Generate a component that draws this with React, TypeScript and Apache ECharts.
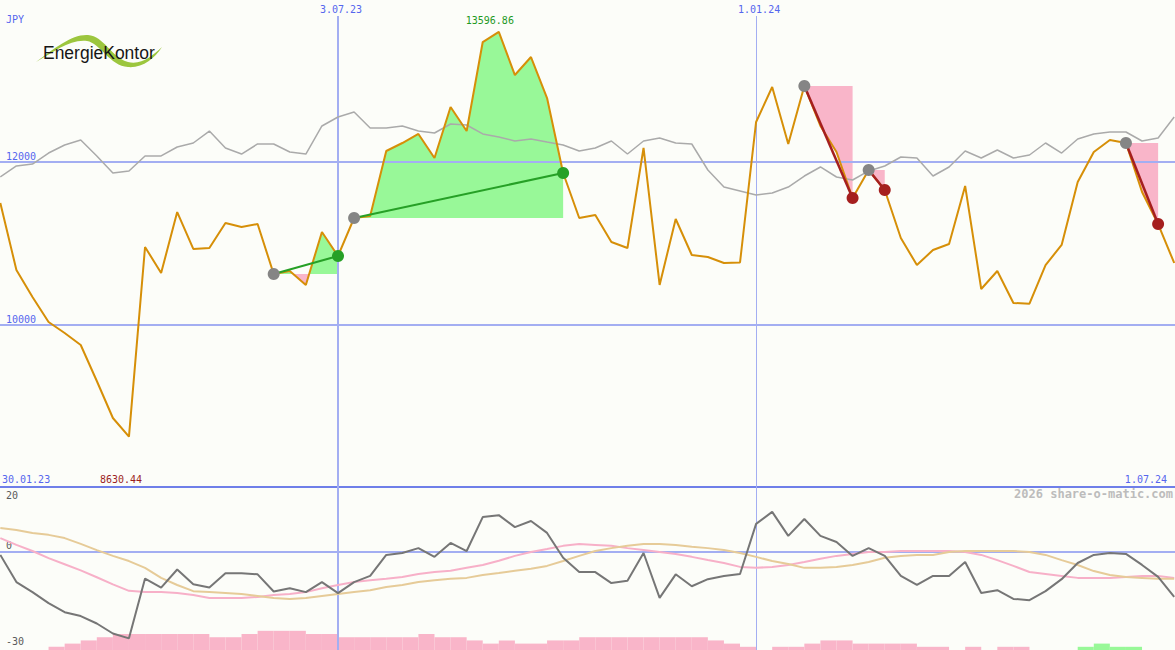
import { useEffect, useRef } from 'react';
import * as echarts from 'echarts';

// Weekly closes in JPY (first point = week of 6.02.23, last = 1.07.24)
const price = [
  11497, 10675, 10344, 10037, 9902, 9755, 9313, 8859, 8630.44, 10957,
  10638, 11386, 10933, 10945, 11252, 11202, 11239, 10626, 10663, 10491,
  11141, 10847, 11313, 11337, 12135, 12233, 12344, 12049, 12675, 12380,
  13472, 13596.86, 13067, 13288, 12785, 11865, 11313, 11350, 11018, 10945,
  12172, 10491, 11301, 10859, 10834, 10761, 10768, 12491, 12920, 12221,
  12933, 12442, 12123, 11558, 11902, 11656, 11067, 10736, 10920, 10994,
  11706, 10442, 10663, 10270, 10262, 10736, 10982, 11755, 12123, 12270,
  12233, 11632, 11239, 10761,
];

// Comparison index, rebased onto the price scale
const benchmark = [
  11816, 11951, 11975, 12110, 12209, 12270, 12074, 11865, 11890, 12074,
  12074, 12184, 12233, 12380, 12172, 12098, 12221, 12221, 12123, 12098,
  12442, 12552, 12614, 12417, 12417, 12442, 12380, 12356, 12466, 12454,
  12344, 12307, 12258, 12282, 12245, 12209, 12135, 12172, 12258, 12098,
  12258, 12294, 12233, 12221, 11902, 11693, 11644, 11595, 11620, 11693,
  11828, 11939, 11816, 11779, 11890, 11951, 12061, 12049, 11828, 11939,
  12135, 12049, 12147, 12049, 12086, 12233, 12110, 12282, 12344, 12368,
  12368, 12258, 12294, 12552,
];

// Lower panel: momentum and its two averages
const momentum = [
  -1.0, -9.4, -12.5, -15.9, -18.7, -19.9, -22.2, -25.3, -26.8, -8.3,
  -11.1, -5.5, -10.1, -11.1, -6.7, -6.7, -7.0, -12.3, -11.3, -12.5,
  -9.4, -12.8, -9.4, -7.5, -1.0, -0.4, 1.1, -1.6, 2.7, 0.2,
  10.7, 11.3, 7.6, 9.5, 5.8, -1.9, -6.3, -6.3, -9.7, -9.0,
  -0.4, -14.3, -7.0, -10.7, -8.5, -7.5, -6.9, 8.6, 12.3, 4.9,
  10.1, 4.9, 3.0, -1.3, 1.1, -1.3, -7.5, -10.3, -7.5, -7.5,
  -3.2, -12.8, -11.9, -14.6, -15.0, -12.2, -8.5, -3.5, -1.0, -0.4,
  -0.7, -4.1, -7.8, -14.0,
];

const avgFast = [
  4.2, 2.1, 0.2, -2.0, -3.9, -5.8, -7.9, -10.1, -12.1, -12.5,
  -12.5, -12.8, -13.4, -14.3, -14.3, -14.3, -14.0, -13.4, -13.1, -12.5,
  -11.3, -10.3, -9.4, -8.8, -8.4, -7.8, -6.9, -6.3, -5.9, -5.0,
  -4.1, -2.8, -1.3, -0.1, 0.8, 1.8, 2.4, 2.1, 1.8, 1.1,
  0.5, -0.1, -0.7, -1.6, -2.6, -3.5, -4.7, -5.0, -4.7, -4.1,
  -3.2, -2.2, -1.3, -0.7, -0.1, -0.1, 0.2, 0.2, 0.2, 0.2,
  -0.1, -1.0, -2.6, -4.4, -6.3, -6.9, -7.5, -8.1, -8.1, -8.1,
  -7.8, -7.5, -7.5, -8.1,
];

const avgSlow = [
  7.3, 6.7, 5.8, 5.2, 4.2, 2.4, 0.5, -1.3, -2.9, -5.0,
  -8.1, -10.3, -12.2, -12.5, -12.8, -13.1, -13.7, -14.3, -14.6, -14.3,
  -13.7, -13.1, -12.5, -11.9, -10.9, -10.3, -9.4, -8.8, -8.4, -8.1,
  -7.2, -6.6, -5.9, -5.3, -4.4, -2.9, -1.3, 0.2, 1.1, 1.8,
  2.4, 2.4, 2.1, 1.5, 1.1, 0.5, -0.4, -1.6, -2.9, -3.8,
  -5.0, -5.0, -4.7, -4.1, -3.2, -1.9, -1.3, -1.0, -1.0, -0.1,
  0.2, 0.2, 0.2, 0.2, -0.1, -1.0, -2.6, -4.1, -6.0, -7.2,
  -7.8, -8.1, -8.4, -8.4,
];

// Weekly signal strength blocks (negative = pink, positive = green)
const flowBars = [
  0, 0, 0, -1, -2, -3, -4, -5, -5, -5,
  -5, -5, -5, -4, -4, -5, -6, -6, -6, -5,
  -5, -4, -4, -4, -4, -4, -5, -4, -4, -3,
  -2, -3, -2, -2, -3, -3, -4, -4, -4, -4,
  -4, -4, -4, -4, -3, -2, -1, 0, -1, -1,
  -2, -3, -3, -2, -2, -2, -2, -1, -1, 0,
  -1, 0, -1, -1, 0, 0, 0, 1, 2, 1,
  1, 0, 0, 0,
];

// Trades: entry and exit week
const entryIdx = [17, 22, 50, 54, 70];
const exitIdx = [21, 35, 53, 55, 72];

// Date marks and labels
const markIdx = [21, 47];
const markLabels = ['3.07.23', '1.01.24'];
const markWidths = [2, 1];
const rangeLabels = ['30.01.23', '1.07.24'];
const priceLevels = [12000, 10000];
const lowerLevels = [20, 0, -30];
const currency = 'JPY';

const BG = '#fcfdf9';
const GRID_BLUE = '#a3aef2';
const LABEL_BLUE = '#5566ee';
const MONO = "'DejaVu Sans Mono', monospace";
const FILL_GREEN = '#98f898';
const FILL_PINK = '#f9b5c9';
const WIN = '#26a026';
const LOSS = '#a51f1f';

const X_MIN = -0.02;
const X_MAX = 73.05;

echarts.graphic.registerShape(
  'swoosh',
  echarts.graphic.extendPath(
    'M0,27 C19,13 36,-1 52,0 C68,1 76,23 92,27 C106,30 116,21 126,12 C118,24 107,33 92,32 C74,31 64,8 51,6 C34,4 18,17 0,27 Z',
    {}
  )
);

function tradePolys(s: number, e: number) {
  const entry = price[s];
  const upper: number[][] = [[s, entry]];
  const lower: number[][] = [[s, entry]];
  for (let j = s; j <= e; j++) {
    const v = price[j];
    if (j > s) {
      const a = price[j - 1] - entry;
      const b = v - entry;
      if (a * b < 0) {
        const xc = j - 1 + a / (a - b);
        upper.push([xc, entry]);
        lower.push([xc, entry]);
      }
    }
    upper.push([j, Math.max(v, entry)]);
    lower.push([j, Math.min(v, entry)]);
  }
  upper.push([e, entry]);
  lower.push([e, entry]);
  return { upper, lower };
}

function buildOption() {
  const pts = (arr: number[]) => arr.map((v, i) => [i, v]);
  const hidden = { show: false };
  const xBase = {
    type: 'value',
    min: X_MIN,
    max: X_MAX,
    axisTick: hidden,
    axisLabel: hidden,
    splitLine: hidden,
  };

  const tradeLineSeries = entryIdx.map((s, k) => {
    const e = exitIdx[k];
    const won = price[e] >= price[s];
    return {
      type: 'line',
      xAxisIndex: 0,
      yAxisIndex: 0,
      z: 5,
      symbol: 'none',
      silent: true,
      lineStyle: { color: won ? WIN : LOSS, width: won ? 2 : 2.5 },
      data: [[s, price[s]], [e, price[e]]],
    };
  });

  const verticalMarks = (withLabel: boolean) =>
    markIdx.map((m, k) => ({
      xAxis: m,
      lineStyle: { color: GRID_BLUE, width: markWidths[k], type: 'solid' },
      label: withLabel
        ? {
            show: true,
            position: 'end',
            distance: 2,
            formatter: markLabels[k],
            color: LABEL_BLUE,
            fontFamily: MONO,
            fontSize: 10,
            offset: [3, 0],
          }
        : { show: false },
    }));

  return {
    animation: false,
    backgroundColor: BG,
    grid: [
      { left: 0, right: 0, top: 16, height: 471 },
      { left: 0, right: 0, top: 487, height: 163 },
    ],
    xAxis: [
      {
        ...xBase,
        gridIndex: 0,
        axisLine: { show: true, onZero: false, lineStyle: { color: '#6f7fe9', width: 2 } },
      },
      { ...xBase, gridIndex: 1, axisLine: hidden },
    ],
    yAxis: [
      { type: 'value', gridIndex: 0, min: 8012.3, max: 13791.4, show: false },
      { type: 'value', gridIndex: 1, min: -30.4, max: 20, show: false },
      { type: 'value', gridIndex: 1, min: 0, max: 51, show: false },
    ],
    series: [
      {
        type: 'custom',
        xAxisIndex: 0,
        yAxisIndex: 0,
        z: 1,
        silent: true,
        data: entryIdx.map((s, k) => [s, exitIdx[k], price[s]]),
        encode: { x: [0, 1], y: 2 },
        renderItem: (_p: any, api: any) => {
          const { upper, lower } = tradePolys(api.value(0), api.value(1));
          return {
            type: 'group',
            children: [
              { type: 'polygon', shape: { points: upper.map((p) => api.coord(p)) }, style: { fill: FILL_GREEN } },
              { type: 'polygon', shape: { points: lower.map((p) => api.coord(p)) }, style: { fill: FILL_PINK } },
            ],
          };
        },
      },
      {
        type: 'line',
        name: 'benchmark',
        xAxisIndex: 0,
        yAxisIndex: 0,
        z: 3,
        symbol: 'none',
        silent: true,
        lineStyle: { color: '#aaaaaa', width: 1.5 },
        data: pts(benchmark),
        markLine: {
          z: 2,
          silent: true,
          symbol: ['none', 'none'],
          data: [
            ...priceLevels.map((lv) => ({
              yAxis: lv,
              lineStyle: { color: GRID_BLUE, width: 2, type: 'solid' },
              label: {
                show: true,
                position: 'insideStartTop',
                distance: [6, 1],
                formatter: String(lv),
                color: LABEL_BLUE,
                fontFamily: MONO,
                fontSize: 10,
              },
            })),
            ...verticalMarks(true),
          ],
        },
      },
      {
        type: 'line',
        name: 'price',
        xAxisIndex: 0,
        yAxisIndex: 0,
        z: 4,
        symbol: 'none',
        silent: true,
        lineStyle: { color: '#d68f08', width: 2 },
        data: pts(price),
        markPoint: {
          symbol: 'circle',
          symbolSize: 0,
          silent: true,
          data: [
            {
              type: 'max',
              label: { show: true, position: 'inside', offset: [-9, -11], color: '#1f991f' },
            },
            {
              type: 'min',
              label: { show: true, position: 'inside', offset: [-8, 43], color: '#9c1f1f' },
            },
          ],
          label: {
            fontFamily: MONO,
            fontSize: 10,
            formatter: (p: any) => Number(p.value).toFixed(2),
          },
        },
      },
      ...tradeLineSeries,
      {
        type: 'scatter',
        xAxisIndex: 0,
        yAxisIndex: 0,
        z: 6,
        silent: true,
        symbolSize: 12,
        itemStyle: { color: '#858585', opacity: 1 },
        data: entryIdx.map((i) => [i, price[i]]),
      },
      {
        type: 'scatter',
        xAxisIndex: 0,
        yAxisIndex: 0,
        z: 6,
        silent: true,
        symbolSize: 12,
        data: exitIdx.map((i, k) => ({
          value: [i, price[i]],
          itemStyle: { color: price[i] >= price[entryIdx[k]] ? WIN : LOSS, opacity: 1 },
        })),
      },
      {
        type: 'custom',
        xAxisIndex: 1,
        yAxisIndex: 2,
        z: 1,
        silent: true,
        data: pts(flowBars),
        encode: { x: 0, y: 1 },
        renderItem: (_p: any, api: any) => {
          const i = api.value(0);
          const v = api.value(1);
          if (!v) return null;
          const p0 = api.coord([i, 0]);
          const p1 = api.coord([i + 1, Math.abs(v)]);
          return {
            type: 'rect',
            shape: { x: p0[0], y: p1[1], width: p1[0] - p0[0], height: p0[1] - p1[1] },
            style: { fill: v > 0 ? FILL_GREEN : FILL_PINK },
          };
        },
      },
      {
        type: 'line',
        xAxisIndex: 1,
        yAxisIndex: 1,
        z: 3,
        symbol: 'none',
        silent: true,
        lineStyle: { color: '#f7b0c8', width: 2 },
        data: pts(avgFast),
        markLine: {
          z: 2,
          silent: true,
          symbol: ['none', 'none'],
          data: [
            { yAxis: 0, lineStyle: { color: GRID_BLUE, width: 2, type: 'solid' }, label: { show: false } },
            ...verticalMarks(false),
          ],
        },
      },
      {
        type: 'line',
        xAxisIndex: 1,
        yAxisIndex: 1,
        z: 3,
        symbol: 'none',
        silent: true,
        lineStyle: { color: '#e6cb98', width: 2 },
        data: pts(avgSlow),
      },
      {
        type: 'line',
        xAxisIndex: 1,
        yAxisIndex: 1,
        z: 4,
        symbol: 'none',
        silent: true,
        lineStyle: { color: '#767676', width: 2 },
        data: pts(momentum),
      },
    ],
    graphic: [
      {
        type: 'text',
        left: 6,
        top: 14,
        style: { text: currency, fill: LABEL_BLUE, font: `10px ${MONO}` },
      },
      {
        type: 'group',
        left: 36,
        top: 35,
        children: [
          { type: 'swoosh', x: 0, y: 0, style: { fill: '#9cc63e' } },
          {
            type: 'text',
            x: 7,
            y: 27,
            scaleX: 0.92,
            style: {
              text: 'EnergieKontor',
              fill: '#161616',
              font: "19px 'Liberation Sans', Arial, sans-serif",
              verticalAlign: 'bottom',
            },
          },
        ],
      },
      {
        type: 'text',
        left: 2,
        top: 474,
        style: { text: rangeLabels[0], fill: LABEL_BLUE, font: `10px ${MONO}` },
      },
      {
        type: 'text',
        right: 8,
        top: 474,
        style: { text: rangeLabels[1], fill: LABEL_BLUE, font: `10px ${MONO}` },
      },
      {
        type: 'text',
        right: 2,
        top: 488,
        style: { text: '2026 share-o-matic.com', fill: '#bcbcbc', font: `bold 12px ${MONO}` },
      },
      ...lowerLevels.map((lv, k) => ({
        type: 'text',
        left: 6,
        top: [490, 540, 636][k],
        style: { text: String(lv), fill: '#5a5a5a', font: `10px ${MONO}` },
      })),
    ],
  };
}

export default function App() {
  const ref = useRef<HTMLDivElement>(null);
  useEffect(() => {
    if (!ref.current) return;
    const chart = echarts.init(ref.current, null, { renderer: 'svg' });
    chart.setOption(buildOption() as any);
    return () => chart.dispose();
  }, []);
  return (
    <div
      ref={ref}
      style={{ position: 'absolute', left: 0, top: 0, width: 1175, height: 650, background: BG }}
    />
  );
}
